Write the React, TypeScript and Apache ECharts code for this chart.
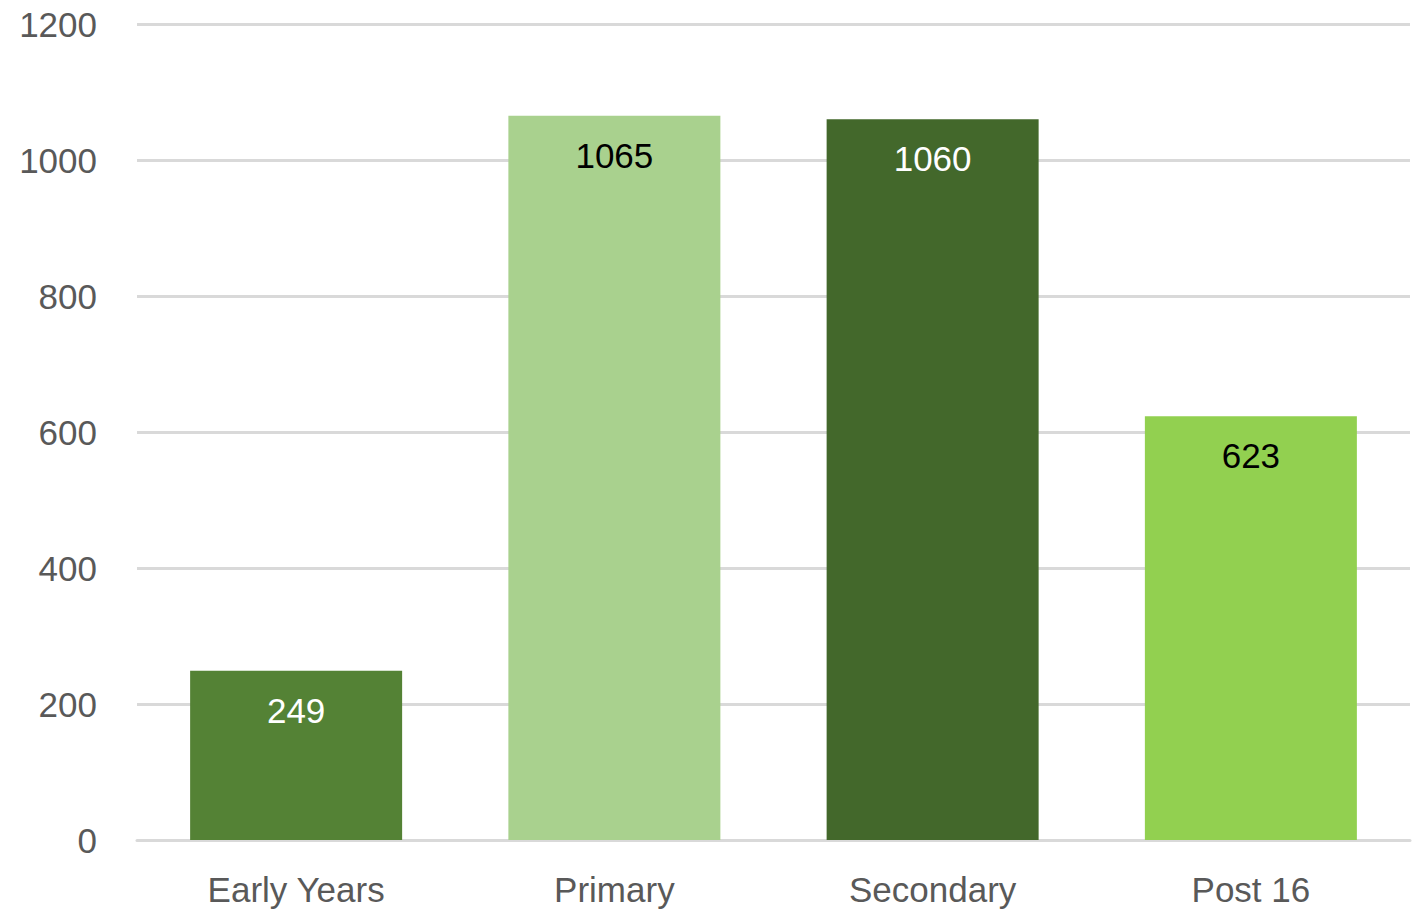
import React, { useEffect, useRef } from "react";
import * as echarts from "echarts";

const categories = ["Early Years", "Primary", "Secondary", "Post 16"];
const values = [249, 1065, 1060, 623];
const barColors = ["#548235", "#A9D18E", "#43682B", "#92D050"];
const labelColors = ["#ffffff", "#000000", "#ffffff", "#000000"];

export default function App() {
  const ref = useRef<HTMLDivElement>(null);
  useEffect(() => {
    if (!ref.current) return;
    const chart = echarts.init(ref.current, null, { renderer: "svg" });
    const font = "'Liberation Sans', Arial, sans-serif";
    chart.setOption({
      animation: false,
      backgroundColor: "#ffffff",
      grid: { left: 137, right: 10, top: 24, bottom: 73, containLabel: false },
      xAxis: {
        type: "category",
        data: categories,
        axisLine: { show: true, lineStyle: { color: "#d9d9d9", width: 3 } },
        axisTick: { show: false },
        axisLabel: { color: "#595959", fontSize: 35, fontFamily: font, margin: 32 },
      },
      yAxis: {
        type: "value",
        min: 0,
        max: 1200,
        interval: 200,
        axisLine: { show: false },
        axisTick: { show: false },
        splitLine: { lineStyle: { color: "#d9d9d9", width: 3 } },
        axisLabel: {
          color: "#595959",
          fontSize: 35,
          fontFamily: font,
          margin: 40,
          formatter: (v: number) => String(v),
        },
      },
      series: [
        {
          type: "bar",
          barWidth: 212,
          data: values.map((v, i) => ({
            value: v,
            itemStyle: { color: barColors[i] },
            label: { color: labelColors[i] },
          })),
          label: {
            show: true,
            position: "insideTop",
            distance: 22,
            fontSize: 35,
            fontFamily: font,
          },
        },
      ],
    });
    return () => chart.dispose();
  }, []);
  return (
    <div
      ref={ref}
      style={{ position: "fixed", left: 0, top: 0, width: 1420, height: 913 }}
    />
  );
}
